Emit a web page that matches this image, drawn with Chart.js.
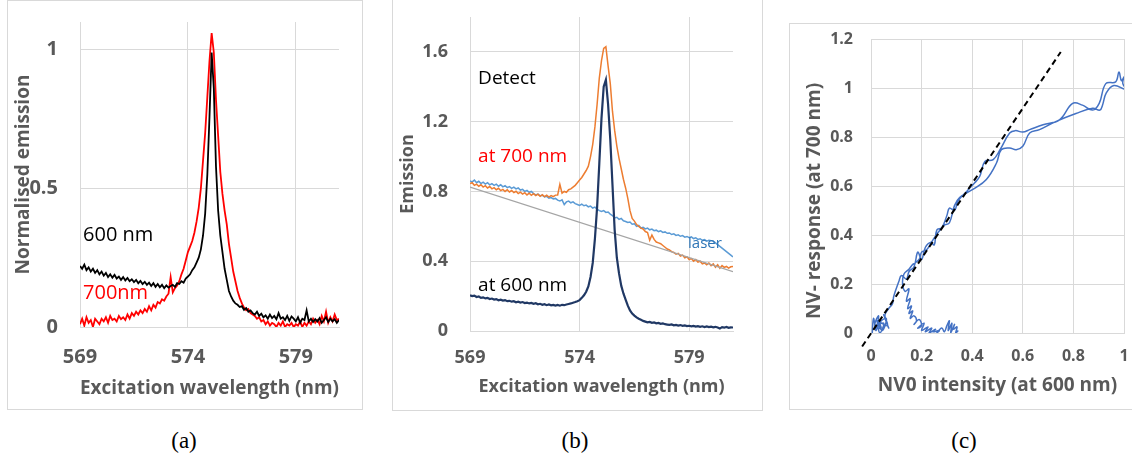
<!DOCTYPE html>
<html lang="en">

<head>
    <meta charset="UTF-8">
    <meta name="viewport" content="width=device-width, initial-scale=1.0">
    <title>NV emission</title>
    <script src="https://cdn.jsdelivr.net/npm/chart.js@4.4.0/dist/chart.umd.min.js"></script>
    <style>
        body {
            margin: 0;
            background: #fff;
            width: 1132px;
            height: 461px;
            position: relative;
            overflow: hidden;
        }

        .frame {
            position: absolute;
            border: 1px solid #d9d9d9;
            box-sizing: border-box;
        }

        canvas {
            position: absolute;
        }

        .cap {
            position: absolute;
            top: 428px;
            font-family: "Liberation Serif", serif;
            font-size: 23px;
            color: #000;
            transform: translateX(-50%);
        }
    </style>
</head>

<body>
    <div class="frame" style="left:7px;top:0;width:356px;height:410px"></div>
    <div class="frame" style="left:392px;top:-1px;width:371px;height:412px"></div>
    <div class="frame" style="left:789px;top:23px;width:380px;height:387px"></div>
    <canvas id="chartA" width="356" height="410" style="left:7px;top:0"></canvas>
    <canvas id="chartB" width="370" height="411" style="left:392px;top:0"></canvas>
    <canvas id="chartC" width="343" height="387" style="left:789px;top:23px"></canvas>
    <div class="cap" style="left:184px">(a)</div>
    <div class="cap" style="left:575px">(b)</div>
    <div class="cap" style="left:964px">(c)</div>
    <script>
        // wavelength grid of the scans (nm), 569.0 ... 581.0 in 0.1 steps
        const wavelength = [];
        for (let i = 0; i <= 120; i++) {
            wavelength.push(Math.round((569 + i / 10) * 10) / 10);
        }
        // tick labels on the wavelength axes
        const wavelengthTicks = [569, 574, 579];

        // (a) normalised emission, detected at 600 nm and 700 nm
        const norm600 = [
            0.22, 0.21, 0.225, 0.205, 0.215, 0.20, 0.21, 0.195, 0.205, 0.19,
            0.20, 0.185, 0.195, 0.18, 0.19, 0.178, 0.188, 0.175, 0.182, 0.17,
            0.18, 0.168, 0.177, 0.165, 0.172, 0.162, 0.17, 0.158, 0.166, 0.155,
            0.163, 0.152, 0.16, 0.148, 0.158, 0.145, 0.155, 0.143, 0.152, 0.14,
            0.15, 0.142, 0.148, 0.152, 0.145, 0.158, 0.155, 0.165, 0.16, 0.175,
            0.182, 0.19, 0.205, 0.215, 0.232, 0.25, 0.28, 0.33, 0.41, 0.55,
            0.76, 0.99, 0.86, 0.58, 0.42, 0.33, 0.27, 0.21, 0.17, 0.13,
            0.11, 0.095, 0.085, 0.08, 0.072, 0.075, 0.062, 0.068, 0.055, 0.06,
            0.05, 0.045, 0.055, 0.04, 0.048, 0.035, 0.042, 0.03, 0.045, 0.032,
            0.04, 0.028, 0.05, 0.03, 0.035, 0.025, 0.04, 0.022, 0.038, 0.03,
            0.02, 0.035, 0.015, 0.03, 0.025, 0.06, 0.02, 0.03, 0.018, 0.028,
            0.02, 0.032, 0.015, 0.025, 0.035, 0.018, 0.03, 0.02, 0.028, 0.015,
            0.025
        ];
        const norm700 = [
            0.01, 0.03, 0.005, 0.035, 0.015, 0.025, 0.0, 0.03, 0.02, 0.01,
            0.03, 0.02, 0.035, 0.015, 0.04, 0.025, 0.03, 0.02, 0.04, 0.028,
            0.035, 0.025, 0.045, 0.03, 0.05, 0.04, 0.055, 0.045, 0.06, 0.05,
            0.065, 0.055, 0.075, 0.06, 0.08, 0.07, 0.09, 0.085, 0.1, 0.095,
            0.11, 0.12, 0.18, 0.125, 0.14, 0.15, 0.165, 0.19, 0.21, 0.24,
            0.27, 0.29, 0.31, 0.34, 0.38, 0.43, 0.5, 0.6, 0.7, 0.83,
            0.96, 1.06, 0.99, 0.82, 0.69, 0.56, 0.48, 0.42, 0.37, 0.3,
            0.25, 0.2, 0.165, 0.13, 0.105, 0.085, 0.07, 0.06, 0.065, 0.05,
            0.045, 0.04, 0.03, 0.035, 0.02, 0.025, 0.01, 0.02, 0.005, 0.015,
            0.01, 0.0, 0.015, 0.005, 0.02, 0.0, 0.01, 0.005, 0.015, 0.0,
            0.01, 0.005, 0.02, 0.0, 0.015, 0.005, 0.02, 0.01, 0.03, 0.015,
            0.025, 0.01, 0.04, 0.02, 0.055, 0.015, 0.035, 0.02, 0.045, 0.025,
            0.03
        ];

        // (b) raw emission
        const emit600 = [
            0.205, 0.2, 0.203, 0.195, 0.198, 0.19, 0.193, 0.187, 0.19, 0.183,
            0.186, 0.18, 0.183, 0.176, 0.179, 0.174, 0.177, 0.171, 0.173, 0.168,
            0.171, 0.165, 0.168, 0.163, 0.166, 0.16, 0.163, 0.158, 0.161, 0.156,
            0.159, 0.153, 0.156, 0.15, 0.154, 0.148, 0.152, 0.147, 0.15, 0.146,
            0.149, 0.145, 0.15, 0.148, 0.152, 0.155, 0.158, 0.162, 0.166, 0.171,
            0.177, 0.19, 0.205, 0.225, 0.255, 0.31, 0.39, 0.53, 0.71, 0.96,
            1.22, 1.40, 1.44, 1.30, 1.10, 0.84, 0.58, 0.42, 0.33, 0.26,
            0.215, 0.18, 0.145, 0.118, 0.1, 0.088, 0.078, 0.07, 0.064, 0.058,
            0.054, 0.05, 0.052, 0.047, 0.049, 0.044, 0.046, 0.041, 0.043, 0.039,
            0.037, 0.035, 0.038, 0.033, 0.035, 0.031, 0.034, 0.03, 0.032, 0.028,
            0.03, 0.027, 0.029, 0.025, 0.028, 0.024, 0.027, 0.023, 0.026, 0.022,
            0.025, 0.021, 0.024, 0.02, 0.014, 0.022, 0.019, 0.023, 0.018, 0.021,
            0.02
        ];
        const emit700 = [
            0.845, 0.85, 0.835, 0.842, 0.83, 0.838, 0.825, 0.833, 0.82, 0.828,
            0.815, 0.822, 0.81, 0.818, 0.805, 0.812, 0.80, 0.81, 0.797, 0.805,
            0.793, 0.801, 0.788, 0.796, 0.785, 0.793, 0.78, 0.79, 0.778, 0.787,
            0.776, 0.784, 0.772, 0.781, 0.77, 0.778, 0.768, 0.776, 0.77, 0.779,
            0.78, 0.84, 0.79, 0.8, 0.795, 0.81, 0.815, 0.825, 0.835, 0.85,
            0.865, 0.88, 0.9, 0.92, 0.945, 1.0, 1.07, 1.17, 1.30, 1.45,
            1.55, 1.62, 1.63, 1.52, 1.42, 1.26, 1.15, 1.06, 0.99, 0.93,
            0.87, 0.82, 0.76, 0.69, 0.645, 0.63, 0.61, 0.6, 0.59, 0.585,
            0.57, 0.565, 0.52, 0.55, 0.525, 0.51, 0.505, 0.5, 0.49, 0.48,
            0.47, 0.465, 0.455, 0.45, 0.44, 0.445, 0.43, 0.435, 0.42, 0.425,
            0.41, 0.415, 0.40, 0.41, 0.395, 0.40, 0.385, 0.39, 0.38, 0.39,
            0.375, 0.385, 0.365, 0.38, 0.36, 0.375, 0.365, 0.37, 0.36, 0.368,
            0.37
        ];
        const laser = [
            0.86, 0.855, 0.865, 0.85, 0.858, 0.845, 0.853, 0.842, 0.85, 0.838,
            0.845, 0.835, 0.842, 0.83, 0.838, 0.826, 0.833, 0.822, 0.828, 0.818,
            0.825, 0.815, 0.82, 0.808, 0.812, 0.8, 0.806, 0.795, 0.8, 0.788,
            0.78, 0.785, 0.775, 0.778, 0.768, 0.772, 0.762, 0.765, 0.757, 0.76,
            0.75, 0.745, 0.752, 0.725, 0.74, 0.745, 0.735, 0.74, 0.73, 0.725,
            0.72, 0.727, 0.718, 0.722, 0.712, 0.716, 0.705, 0.71, 0.698, 0.69,
            0.685, 0.69, 0.68, 0.682, 0.67, 0.662, 0.648, 0.652, 0.64, 0.645,
            0.632, 0.628, 0.622, 0.625, 0.612, 0.615, 0.6, 0.605, 0.59, 0.594,
            0.585, 0.59, 0.58, 0.584, 0.575, 0.578, 0.57, 0.574, 0.565, 0.568,
            0.56, 0.562, 0.553, 0.557, 0.548, 0.551, 0.543, 0.547, 0.538, 0.542,
            0.535, 0.54, 0.53, 0.534, 0.525, 0.529, 0.52, 0.524, 0.515, 0.52,
            0.518, 0.515, 0.505, 0.495, 0.485, 0.475, 0.465, 0.455, 0.445, 0.435,
            0.425
        ];
        // straight reference line under the laser background
        const trendX = [569, 581];
        const trendY = [0.825, 0.34];

        // (c) NV- response vs NV0 intensity
        const nvX = [
            0.005, 0.01, 0.02, 0.03, 0.015, 0.04, 0.025, 0.035, 0.05, 0.02, 0.06, 0.045,
            0.03, 0.065, 0.05, 0.07, 0.055,
            0.07, 0.085, 0.09, 0.11, 0.12, 0.14, 0.15, 0.17, 0.185, 0.2, 0.215, 0.235, 0.25,
            0.26, 0.28, 0.3, 0.31, 0.33, 0.345, 0.38, 0.41, 0.43, 0.45, 0.483, 0.51, 0.548,
            0.57, 0.6, 0.627, 0.68, 0.745, 0.797, 0.836, 0.876, 0.902, 0.928, 0.967, 0.98,
            0.99, 1.0, 0.995, 1.005,
            0.96, 0.93, 0.915, 0.905, 0.876, 0.81, 0.73, 0.666, 0.627, 0.6, 0.574, 0.548,
            0.515, 0.496, 0.456, 0.404, 0.35, 0.33, 0.31, 0.29, 0.265, 0.245, 0.22, 0.2,
            0.19, 0.165, 0.15, 0.13,
            0.125, 0.135, 0.15, 0.14, 0.155, 0.145, 0.16, 0.15, 0.165, 0.155,
            0.17, 0.18, 0.17, 0.19, 0.2, 0.185, 0.21, 0.2, 0.225, 0.215,
            0.24, 0.23, 0.255, 0.245, 0.27, 0.26, 0.28, 0.29, 0.3, 0.31,
            0.305, 0.32, 0.315, 0.33, 0.325, 0.34, 0.335, 0.345
        ];
        const nvY = [
            0.0, 0.06, 0.01, 0.07, 0.03, 0.02, 0.05, 0.0, 0.04, 0.03, 0.06, 0.01,
            0.045, 0.03, 0.075, 0.02, 0.07,
            0.1, 0.12, 0.15, 0.21, 0.235, 0.22, 0.25, 0.27, 0.33, 0.3, 0.35, 0.37, 0.36,
            0.42, 0.43, 0.48, 0.51, 0.5, 0.54, 0.58, 0.613, 0.64, 0.70, 0.708, 0.748, 0.816,
            0.826, 0.82, 0.83, 0.85, 0.87, 0.937, 0.93, 0.91, 0.937, 1.018, 1.025, 1.065,
            1.03, 1.045, 1.02, 0.995,
            1.01, 0.98, 0.93, 0.91, 0.917, 0.896, 0.863, 0.83, 0.816, 0.762, 0.748, 0.755,
            0.748, 0.694, 0.627, 0.587, 0.553, 0.52, 0.45, 0.44, 0.41, 0.38, 0.34, 0.33,
            0.3, 0.28, 0.26, 0.24,
            0.2, 0.17, 0.18, 0.13, 0.14, 0.1, 0.11, 0.08, 0.09, 0.06,
            0.07, 0.05, 0.035, 0.055, 0.03, 0.02, 0.04, 0.01, 0.025, 0.005,
            0.02, 0.0, 0.015, 0.005, 0.01, 0.0, 0.02, 0.005, 0.03, 0.05,
            0.01, 0.04, 0.0, 0.035, 0.015, 0.025, 0.0, 0.01
        ];
        // dashed guide line
        const guideX = [-0.035, 0.75];
        const guideY = [-0.055, 1.147];

        // text labels inside the plots, in data units
        const notesA = [
            { text: '600 nm', x: 569.14, y: 0.33, color: '#000000' },
            { text: '700nm', x: 569.14, y: 0.122, color: '#ff0000' }
        ];
        const notesB = [
            { text: 'Detect', x: 569.37, y: 1.446, color: '#000000' },
            { text: 'at 700 nm', x: 569.37, y: 1.0, color: '#ff0000' },
            { text: 'at 600 nm', x: 569.37, y: 0.263, color: '#000000' },
            { text: 'laser', x: 578.95, y: 0.503, color: '#2e75b6', size: 15 }
        ];

        const axisGrey = '#595959';
        const gridGrey = '#d9d9d9';

        // draws the free text labels
        const notesPlugin = {
            id: 'notes',
            afterDatasetsDraw(chart, args, opts) {
                const ctx = chart.ctx;
                ctx.save();
                ctx.textAlign = 'left';
                ctx.textBaseline = 'middle';
                (opts.items || []).forEach(n => {
                    ctx.font = (n.size || opts.size) + 'px "Open Sans"';
                    ctx.fillStyle = n.color;
                    ctx.fillText(n.text, chart.scales.x.getPixelForValue(n.x), chart.scales.y.getPixelForValue(n.y));
                });
                if (opts.sideTitle) {
                    // y title of (c) sits a bit below the plot centre
                    const a = chart.chartArea;
                    ctx.translate(a.left - 56, (a.top + a.bottom) / 2 + 15);
                    ctx.rotate(-Math.PI / 2);
                    ctx.textAlign = 'center';
                    ctx.font = 'bold 19px "Open Sans"';
                    ctx.fillStyle = axisGrey;
                    ctx.fillText(opts.sideTitle, 0, 0);
                }
                ctx.restore();
            }
        };

        function axis(o) {
            return {
                type: 'linear',
                min: o.min,
                max: o.max,
                afterFit: o.fit,
                afterBuildTicks: o.values ? (s => { s.ticks = o.values.map(v => ({ value: v })); }) : undefined,
                border: { color: gridGrey },
                grid: { color: gridGrey, drawTicks: true, tickLength: o.gap, tickColor: 'rgba(0,0,0,0)' },
                ticks: {
                    stepSize: o.step,
                    includeBounds: false,
                    padding: 0,
                    color: axisGrey,
                    font: { family: 'Open Sans', weight: 'bold', size: o.tickSize },
                    callback: v => String(Math.round(v * 100) / 100)
                },
                title: {
                    display: !!o.title,
                    text: o.title,
                    color: axisGrey,
                    font: { family: 'Open Sans', weight: 'bold', size: o.titleSize },
                    padding: o.titlePad
                }
            };
        }

        function baseOptions(pad, scales, notes) {
            return {
                responsive: false,
                animation: false,
                events: [],
                layout: { padding: pad },
                elements: { point: { radius: 0 } },
                plugins: { legend: { display: false }, tooltip: { enabled: false }, notes: notes },
                scales: scales
            };
        }

        //(a)
        new Chart(document.getElementById('chartA'), {
            type: 'line',
            data: {
                labels: wavelength,
                datasets: [
                    { data: norm600, borderColor: '#000000', borderWidth: 1.8 },
                    { data: norm700, borderColor: '#ff0000', borderWidth: 1.8 }
                ]
            },
            options: baseOptions({ top: 22, right: 24, bottom: 0, left: 0 }, {
                x: axis({
                    min: 569, max: 581, values: wavelengthTicks, gap: 18, tickSize: 20,
                    title: 'Excitation wavelength (nm)', titleSize: 19, titlePad: { top: 0, bottom: 10 },
                    fit: s => { s.height = 83; }
                }),
                y: axis({
                    min: 0, max: 1.1, step: 0.5, gap: 22, tickSize: 20,
                    title: 'Normalised emission', titleSize: 19, titlePad: { top: 5, bottom: 0 },
                    fit: s => { s.width = 73; }
                })
            }, { items: notesA, size: 20 }),
            plugins: [notesPlugin]
        });

        //(b)
        new Chart(document.getElementById('chartB'), {
            type: 'line',
            data: {
                labels: wavelength,
                datasets: [
                    { data: emit600, borderColor: '#203864', borderWidth: 2.2 },
                    {
                        data: trendX.map((x, i) => ({ x: x, y: trendY[i] })),
                        borderColor: '#a5a5a5', borderWidth: 1.3
                    },
                    { data: emit700, borderColor: '#ed7d31', borderWidth: 1.5 },
                    { data: laser, borderColor: '#5b9bd5', borderWidth: 1.5 }
                ]
            },
            options: baseOptions({ top: 17, right: 29, bottom: 0, left: 0 }, {
                x: axis({
                    min: 569, max: 581, values: wavelengthTicks, gap: 16, tickSize: 18,
                    title: 'Excitation wavelength (nm)', titleSize: 18, titlePad: { top: 0, bottom: 13 },
                    fit: s => { s.height = 80; }
                }),
                y: axis({
                    min: 0, max: 1.8, step: 0.4, gap: 22, tickSize: 18,
                    title: 'Emission', titleSize: 18, titlePad: { top: 5, bottom: 0 },
                    fit: s => { s.width = 78; }
                })
            }, { items: notesB, size: 19 }),
            plugins: [notesPlugin]
        });

        //(c)
        new Chart(document.getElementById('chartC'), {
            type: 'scatter',
            data: {
                datasets: [
                    {
                        data: guideX.map((x, i) => ({ x: x, y: guideY[i] })),
                        showLine: true, borderColor: '#000000', borderWidth: 2,
                        borderDash: [6, 4], clip: false
                    },
                    {
                        data: nvX.map((x, i) => ({ x: x, y: nvY[i] })),
                        showLine: true, borderColor: '#4472c4', borderWidth: 1.5,
                        tension: 0.4
                    }
                ]
            },
            options: baseOptions({ top: 16, right: 8, bottom: 0, left: 0 }, {
                x: axis({
                    min: 0, max: 1, step: 0.2, gap: 14, tickSize: 16,
                    title: 'NV0 intensity (at 600 nm)', titleSize: 19, titlePad: { top: 0, bottom: 13 },
                    fit: s => { s.height = 77; }
                }),
                y: axis({
                    min: 0, max: 1.2, step: 0.2, gap: 18, tickSize: 16,
                    fit: s => { s.width = 82; }
                })
            }, { items: [], size: 18, sideTitle: 'NV- response (at 700 nm)' }),
            plugins: [notesPlugin]
        });
    </script>
</body>

</html>
